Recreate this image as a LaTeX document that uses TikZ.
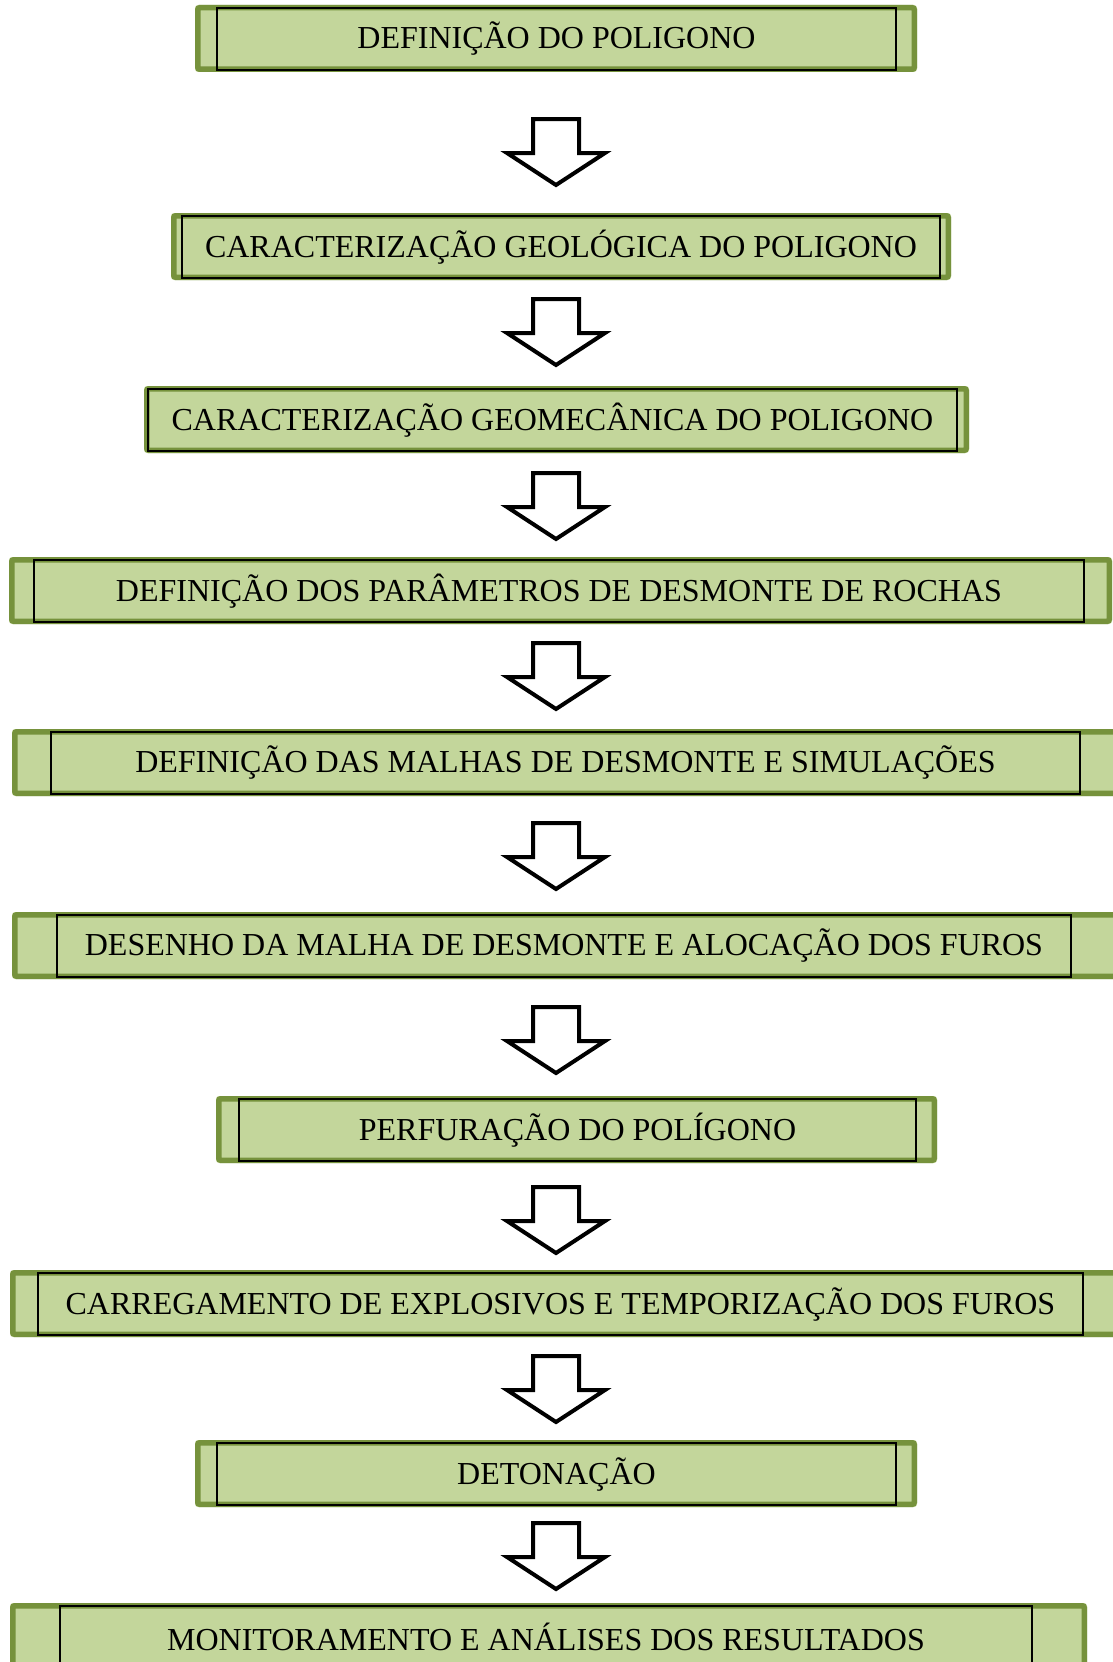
\documentclass[tikz,border=0pt]{standalone}
\usepackage{fontspec}
\setmainfont{Liberation Serif}
\definecolor{boxfill}{HTML}{C3D69B}
\definecolor{boxedge}{HTML}{76923C}
\tikzset{
  stepbox/.style={draw=black, line width=1.6pt, inner sep=0pt, align=center,
    font=\fontsize{32}{38}\selectfont, text=black},
  outerfill/.style={fill=boxfill, rounded corners=3pt},
  outeredge/.style={draw=boxedge, line width=5.5pt, rounded corners=2pt},
  blockarrow/.style={draw=black, fill=white, line width=4pt, line join=miter},
}
% #1 name, #2 outer left, #3 inner left, #4 inner right, #5 outer right, #6 top, #7 text
\newcommand{\stagebox}[7]{%
  \fill[outerfill] (#2,#6) rectangle (#5,#6+67);
  \draw[outeredge] (#2+2.75,#6+2.75) rectangle (#5-2.75,#6+64.25);
  \node[stepbox, minimum width={(#4-#3)*1pt}, minimum height=62pt] (#1) at ({(#3+#4)/2},#6+34) {#7};
}
% #1 name of arrow coordinate, #2 top y
\newcommand{\downarrowblock}[2]{%
  \coordinate (#1) at (556,#2);
  \draw[blockarrow] ([xshift=-23pt]#1) -- ([xshift=23pt]#1) -- ([xshift=23pt,yshift=-34pt]#1)
    -- ([xshift=49pt,yshift=-34pt]#1) -- ([yshift=-66pt]#1) -- ([xshift=-49pt,yshift=-34pt]#1)
    -- ([xshift=-23pt,yshift=-34pt]#1) -- cycle;
}
\begin{document}
\begin{tikzpicture}[x=1pt,y=-1pt]
\clip (0,0) rectangle (1113,1662);
\fill[white] (0,0) rectangle (1113,1662);
\stagebox{b1}{195}{217}{896}{917}{5}{DEFINIÇÃO DO POLIGONO}
\stagebox{b2}{171}{182}{940}{951}{213}{CARACTERIZAÇÃO GEOLÓGICA DO POLIGONO}
\stagebox{b3}{144}{148}{957}{969}{386}{CARACTERIZAÇÃO GEOMECÂNICA DO POLIGONO}
\stagebox{b4}{9}{34}{1084}{1112}{557}{DEFINIÇÃO DOS PARÂMETROS DE DESMONTE DE ROCHAS}
\stagebox{b5}{12}{51}{1080}{1122}{729}{DEFINIÇÃO DAS MALHAS DE DESMONTE E SIMULAÇÕES}
\stagebox{b6}{12}{57}{1071}{1122}{912}{DESENHO DA MALHA DE DESMONTE E ALOCAÇÃO DOS FUROS}
\stagebox{b7}{216}{239}{916}{937}{1096}{PERFURAÇÃO DO POLÍGONO}
\stagebox{b8}{10}{38}{1083}{1122}{1270}{CARREGAMENTO DE EXPLOSIVOS E TEMPORIZAÇÃO DOS FUROS}
\stagebox{b9}{195}{217}{896}{917}{1440}{DETONAÇÃO}
\stagebox{b10}{10}{60}{1032}{1087}{1603}{MONITORAMENTO E ANÁLISES DOS RESULTADOS}
\downarrowblock{a1}{119}
\downarrowblock{a2}{299}
\downarrowblock{a3}{473}
\downarrowblock{a4}{643}
\downarrowblock{a5}{823}
\downarrowblock{a6}{1007}
\downarrowblock{a7}{1187}
\downarrowblock{a8}{1356}
\downarrowblock{a9}{1523}
\end{tikzpicture}
\end{document}
